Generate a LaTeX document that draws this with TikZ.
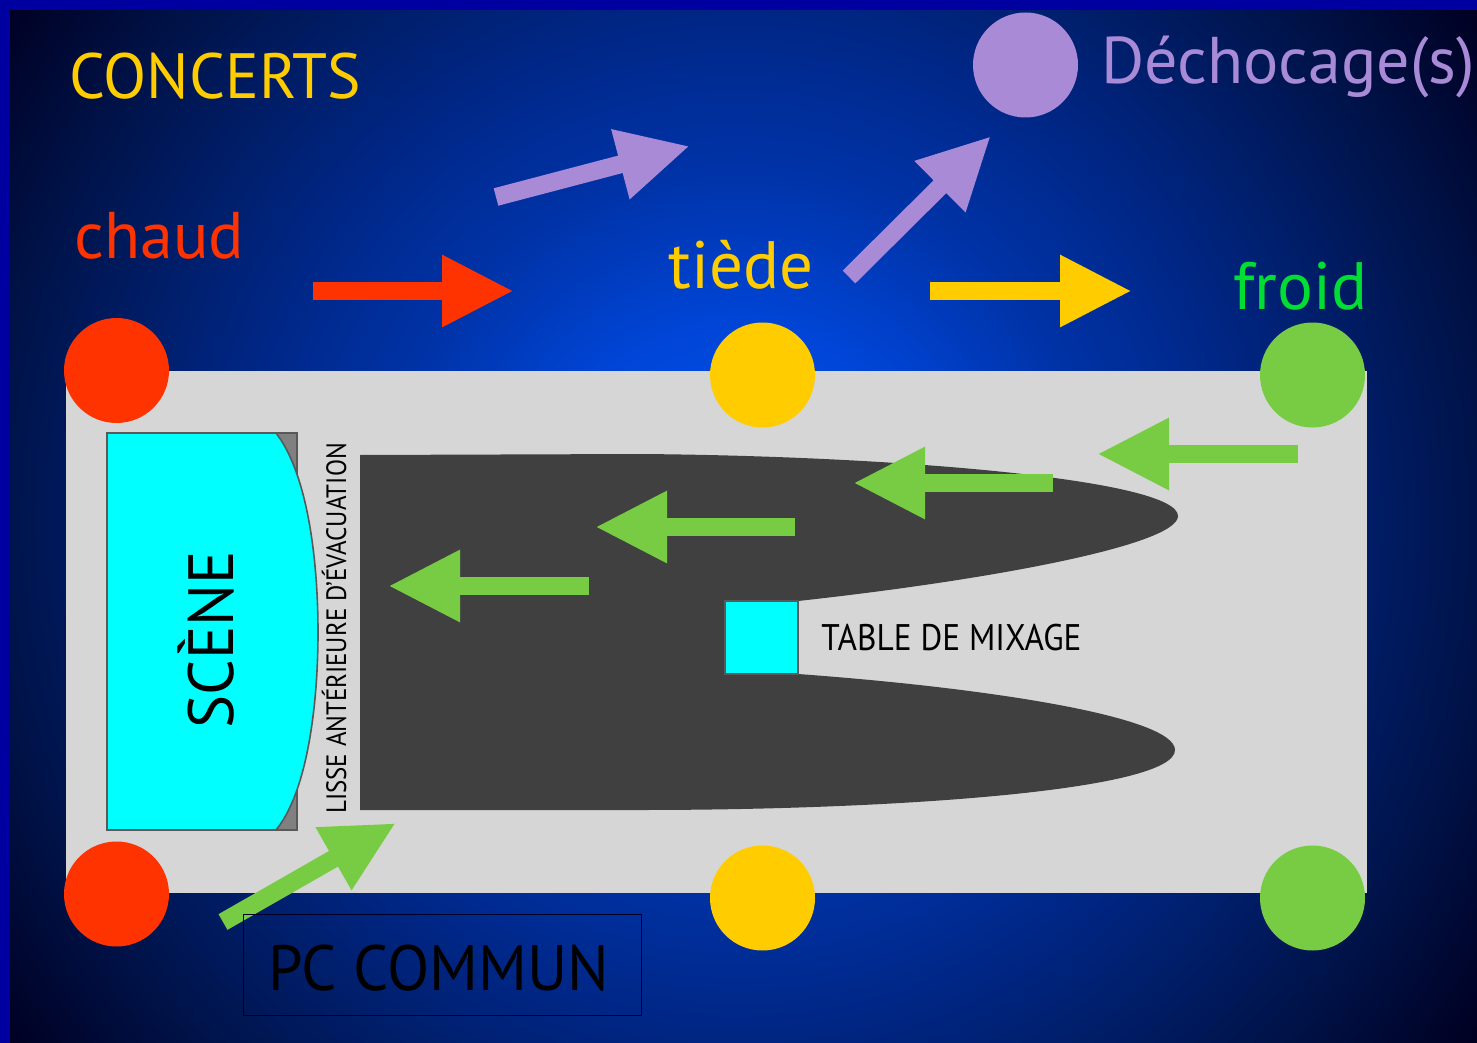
\documentclass[tikz,border=0pt]{standalone}
\usepackage{fontspec}
\setmainfont{PT Sans}
\usetikzlibrary{arrows.meta}
\definecolor{barblue}{HTML}{0000A0}
\definecolor{hallgray}{HTML}{D6D6D6}
\definecolor{pitgray}{HTML}{404040}
\definecolor{hot}{HTML}{FF3300}
\definecolor{warm}{HTML}{FFCC00}
\definecolor{cool}{HTML}{77CC44}
\definecolor{coolt}{HTML}{00DD33}
\definecolor{shock}{HTML}{A98AD6}
\definecolor{stagecyan}{HTML}{00FFFF}
\pgfdeclareradialshading{bgglow}{\pgfpoint{0bp}{0bp}}{
  rgb(0bp)=(0,0.33,0.95);
  rgb(5bp)=(0,0.27,0.84);
  rgb(8.75bp)=(0,0.20,0.66);
  rgb(12.75bp)=(0,0.15,0.52);
  rgb(18.25bp)=(0,0.08,0.30);
  rgb(22.5bp)=(0,0,0.13);
  rgb(50bp)=(0,0,0.10)}
\tikzset{
  fat/.style={line width=9pt,-{Triangle[length=36pt,width=33.5pt]}},
  dot/.style={circle,minimum size=52.5pt,inner sep=0pt,fill=#1},
  lab/.style={anchor=base west,inner sep=0pt,font=\fontsize{#1}{#1}\selectfont}
}
\begin{document}
\begin{tikzpicture}[x=0.5pt,y=-0.5pt]
\useasboundingbox (0,0) rectangle (1477,1043);
\begin{scope}
\clip (0,0) rectangle (1477,1043);
\fill[shading=bgglow] (-262,-479) rectangle (1738,1521);
\end{scope}
\fill[barblue] (0,0) rectangle (1477,10);
\fill[barblue] (0,0) rectangle (10,1043);
% hall
\fill[hallgray] (66,371) rectangle (1367,893);
% stage
\filldraw[fill=gray,draw=black!65,line width=0.8pt] (107,433) rectangle (297,830);
\filldraw[fill=stagecyan,draw=black!65,line width=0.8pt] (107,433) -- (276,433)
  .. controls (305,470) and (318,550) .. (318,632)
  .. controls (318,714) and (305,795) .. (276,830) -- (107,830) -- cycle;
% pit
\fill[pitgray] (360,455) -- (640,454)
  .. controls (900,456) and (1178,480) .. (1178,516)
  .. controls (1178,545) and (990,580) .. (798,601)
  -- (725,601) -- (725,674) -- (798,674)
  .. controls (990,688) and (1175,717) .. (1175,750)
  .. controls (1175,790) and (900,810) .. (640,810)
  -- (360,810) -- cycle;
\filldraw[fill=stagecyan,draw=black!65,line width=0.8pt] (725,601) rectangle (798,674);
% dots
\node[dot=hot] (n1) at (116.5,370.5) {};
\node[dot=hot] (n2) at (116.5,894) {};
\node[dot=warm] (n3) at (762.5,375) {};
\node[dot=warm] (n4) at (762.5,898) {};
\node[dot=cool] (n5) at (1312.5,375) {};
\node[dot=cool] (n6) at (1312.5,898) {};
\node[dot=shock] (n7) at (1025.5,65) {};
% arrows
\coordinate (a1) at (313,291); \coordinate (a2) at (514,291);
\draw[fat,hot] (a1) -- (a2);
\coordinate (b1) at (930,291); \coordinate (b2) at (1132,291);
\draw[fat,warm] (b1) -- (b2);
\coordinate (c1) at (496,197); \coordinate (c2) at (690,146);
\draw[fat,shock] (c1) -- (c2);
\coordinate (d1) at (849,277); \coordinate (d2) at (991,136);
\draw[fat,shock] (d1) -- (d2);
\coordinate (e1) at (1298,454); \coordinate (e2) at (1097,454);
\draw[fat,cool] (e1) -- (e2);
\coordinate (f1) at (1053,483); \coordinate (f2) at (853,483);
\draw[fat,cool] (f1) -- (f2);
\coordinate (g1) at (795,527); \coordinate (g2) at (595,527);
\draw[fat,cool] (g1) -- (g2);
\coordinate (h1) at (589,586); \coordinate (h2) at (388,586);
\draw[fat,cool] (h1) -- (h2);
\coordinate (i1) at (223,922); \coordinate (i2) at (396,823);
\draw[fat,cool] (i1) -- (i2);
% PC box
\node[draw=black!85!blue,line width=0.7pt,minimum width=199pt,minimum height=50.5pt,inner sep=0pt,anchor=north west] (pc) at (243,914) {};
% labels
\node[lab=32,warm] (t1) at (69,99) {\scalebox{0.985}[1]{CONCERTS}};
\node[lab=33,hot] (t2) at (74,258) {chaud};
\node[lab=33.5,warm] (t3) at (668,288) {tiède};
\node[lab=33.5,coolt] (t4) at (1233,309) {froid};
\node[lab=33,shock] (t5) at (1101,84) {Déchocage(s)};
\node[lab=32,black] (t6) at (268,990) {\scalebox{0.965}[1]{PC COMMUN}};
\node[lab=32,black,rotate=90] (t7) at (233,729) {\scalebox{0.975}[1]{SCÈNE}};
\node[lab=14,black,rotate=90] (t8) at (346,814) {\scalebox{0.89}[1]{LISSE ANTÉRIEURE D'ÉVACUATION}};
\node[lab=18.5,black] (t9) at (821,650) {\scalebox{0.9}[1]{TABLE DE MIXAGE}};
\end{tikzpicture}
\end{document}
